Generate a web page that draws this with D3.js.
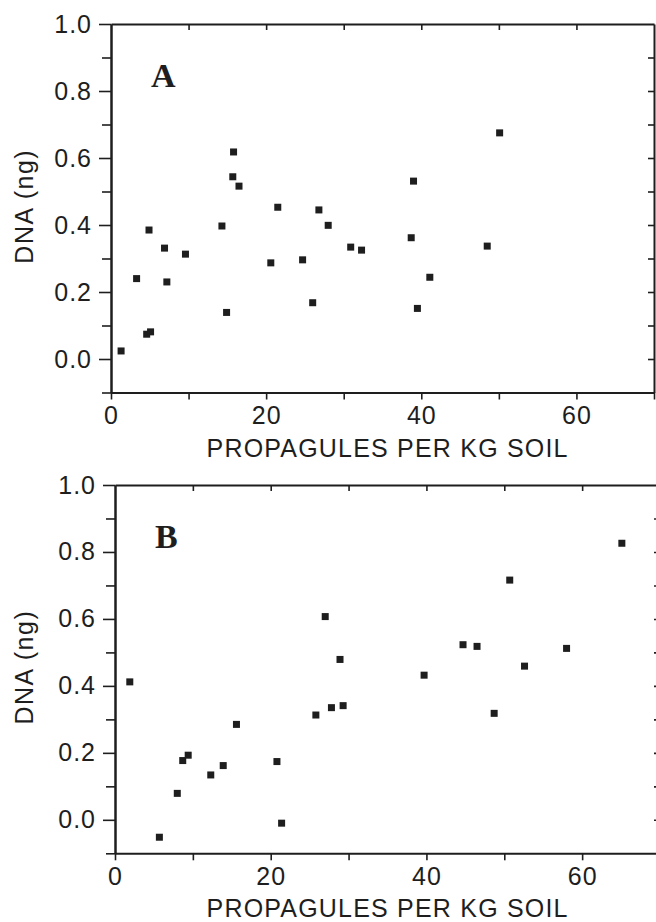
<!DOCTYPE html>
<html>
<head>
<meta charset="utf-8">
<script src="https://cdn.jsdelivr.net/npm/d3@7"></script>
<style>
  body { margin: 0; background: #fff; }
  svg { display: block; }
</style>
</head>
<body>
<svg id="chart"></svg>
<script>
// panel A: propagules per kg soil vs DNA (ng)
const aPropagules = [1.3, 3.3, 4.9, 4.6, 5.1, 6.9, 7.2, 9.6, 14.3, 14.9, 15.8, 15.7, 16.5, 21.5, 20.6, 24.7, 26.0, 26.8, 28.0, 30.9, 32.3, 38.7, 39.0, 39.5, 41.1, 48.5, 50.1];
const aDna        = [0.024, 0.24, 0.385, 0.074, 0.081, 0.331, 0.23, 0.313, 0.397, 0.139, 0.618, 0.544, 0.516, 0.453, 0.287, 0.296, 0.168, 0.445, 0.399, 0.334, 0.325, 0.362, 0.531, 0.151, 0.244, 0.337, 0.675];

// panel B
const bPropagules = [1.9, 5.7, 8.0, 8.7, 9.4, 12.3, 13.9, 15.6, 20.8, 21.4, 25.8, 27.0, 27.8, 28.9, 29.3, 39.7, 44.7, 46.5, 48.7, 50.7, 52.6, 58.0, 65.1];
const bDna        = [0.412, -0.052, 0.079, 0.177, 0.193, 0.134, 0.162, 0.285, 0.174, -0.010, 0.313, 0.607, 0.335, 0.479, 0.341, 0.432, 0.523, 0.518, 0.318, 0.716, 0.459, 0.512, 0.826];

const xTicks = [0, 10, 20, 30, 40, 50, 60, 70];
const xLabels = [0, 20, 40, 60];
const yMinor = [-0.1, 0.1, 0.3, 0.5, 0.7, 0.9];
const yLabels = [0, 0.2, 0.4, 0.6, 0.8, 1.0];

const width = 656, height = 922;
const ink = "#1e1e1e";
const font = "'Liberation Sans', Arial, sans-serif";

const svg = d3.select("#chart")
    .attr("width", width)
    .attr("height", height);

function near(list, v) { return list.some(l => Math.abs(l - v) < 1e-6); }

function drawPanel(box, xs, ys, letter) {
  const x = d3.scaleLinear().domain([0, 70]).range([box.left, box.right]);
  const y = d3.scaleLinear().domain([-0.1, 1.0]).range([box.bottom, box.top]);

  const g = svg.append("g");

  // left axis: short minor ticks, longer labelled ones
  g.append("g")
      .attr("transform", `translate(${box.left},0)`)
      .call(d3.axisLeft(y).tickValues(yMinor).tickSize(9).tickSizeOuter(0).tickFormat(""));
  g.append("g")
      .attr("class", "lab")
      .attr("transform", `translate(${box.left},0)`)
      .call(d3.axisLeft(y).tickValues(yLabels).tickSize(12).tickSizeOuter(0).tickPadding(7)
        .tickFormat(d3.format(".1f")));

  // bottom axis, outward ticks
  g.append("g")
      .attr("class", "lab")
      .attr("transform", `translate(0,${box.bottom})`)
      .call(d3.axisBottom(x).tickValues(xTicks).tickSize(7).tickSizeOuter(0).tickPadding(7)
        .tickFormat(d => near(xLabels, d) ? d : ""));

  // top and right, inward ticks, no labels
  g.append("g")
      .attr("transform", `translate(0,${box.top})`)
      .call(d3.axisTop(x).tickValues(xTicks.slice(1, -1)).tickSize(-6).tickSizeOuter(0).tickFormat(""));
  g.append("g")
      .attr("transform", `translate(${box.right},0)`)
      .call(d3.axisRight(y).tickValues(d3.sort(yMinor.concat(yLabels)).slice(1, -1)).tickSize(-6).tickSizeOuter(0).tickFormat(""));

  g.selectAll(".domain").attr("stroke", ink).attr("stroke-width", 2);
  g.selectAll(".tick line").attr("stroke", ink).attr("stroke-width", 1.6);
  g.selectAll(".lab .tick text")
      .attr("fill", ink)
      .attr("font-family", font)
      .attr("font-size", 25)
      .attr("letter-spacing", 1);

  // points
  g.append("g")
    .selectAll("rect")
    .data(xs.map((v, i) => [v, ys[i]]))
    .join("rect")
      .attr("x", d => x(d[0]) - 3.5)
      .attr("y", d => y(d[1]) - 3.5)
      .attr("width", 7)
      .attr("height", 7)
      .attr("fill", ink);

  // panel letter
  g.append("text")
      .attr("x", box.left + 40)
      .attr("y", box.top + 63)
      .attr("font-family", "'Liberation Serif', 'DejaVu Serif', serif")
      .attr("font-weight", "bold")
      .attr("font-size", 34)
      .attr("fill", ink)
      .text(letter);

  // axis titles
  g.append("text")
      .attr("x", 387)
      .attr("y", box.bottom + 64)
      .attr("text-anchor", "middle")
      .attr("font-family", font)
      .attr("font-size", 25)
      .attr("textLength", 361)
      .attr("lengthAdjust", "spacing")
      .attr("fill", ink)
      .text("PROPAGULES PER KG SOIL");

  g.append("text")
      .attr("transform", `translate(33,${(box.top + box.bottom) / 2 - 2}) rotate(-90)`)
      .attr("text-anchor", "middle")
      .attr("font-family", font)
      .attr("font-size", 25)
      .attr("letter-spacing", 1.5)
      .attr("fill", ink)
      .text("DNA (ng)");
}

drawPanel({ left: 111, right: 654, top: 24, bottom: 392.5 }, aPropagules, aDna, "A");
drawPanel({ left: 115, right: 660, top: 485, bottom: 853.3 }, bPropagules, bDna, "B");
</script>
</body>
</html>
